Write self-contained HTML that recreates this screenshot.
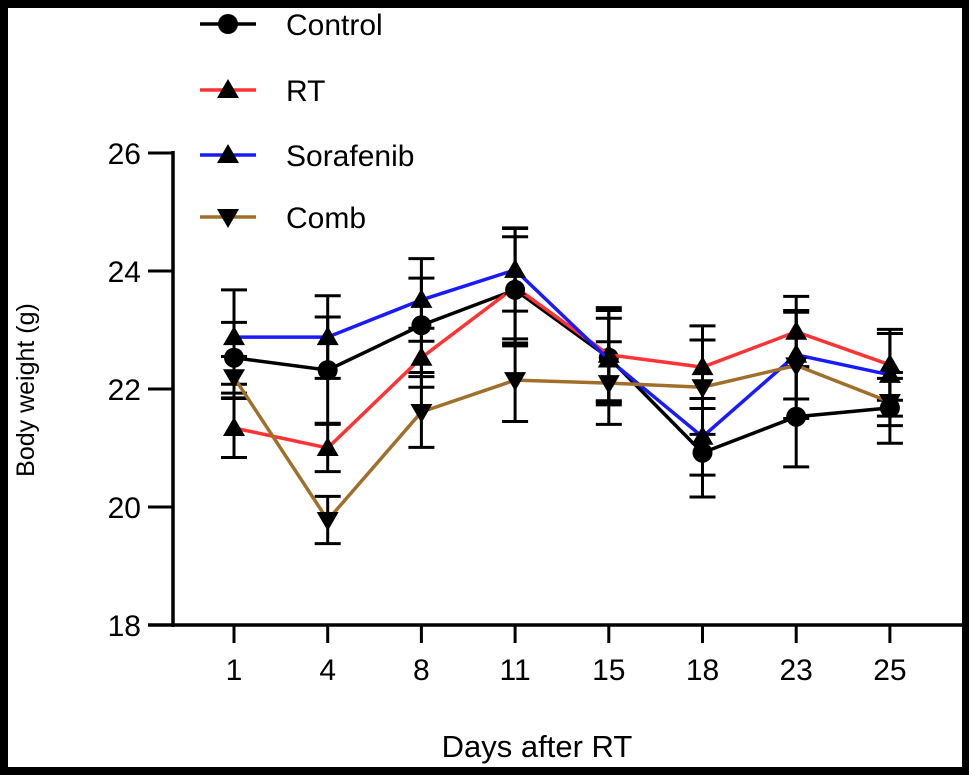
<!DOCTYPE html>
<html><head><meta charset="utf-8"><style>
html,body{margin:0;padding:0;background:#000;}
svg{display:block;font-family:"Liberation Sans",sans-serif;}
</style></head><body>
<svg width="969" height="775" viewBox="0 0 969 775">
<rect x="0" y="0" width="969" height="775" fill="#000"/>
<rect x="8" y="8" width="954" height="759" fill="#fff"/>
<g id="axes"></g>
<g id="series"></g>
<g id="legend"></g>
<text x="537" y="757" font-size="31" text-anchor="middle">Days after RT</text>
<text transform="translate(34,390) rotate(-90)" font-size="25" text-anchor="middle">Body weight (g)</text>
</svg>
<script>
const days = ["1","4","8","11","15","18","23","25"];
const yTicks = [18,20,22,24,26];
const seriesNames = ["Control","RT","Sorafenib","Comb"];
const controlVals = [22.53,22.32,23.08,23.68,22.53,20.92,21.53,21.68];
const rtVals = [21.34,21.0,22.53,23.73,22.58,22.37,22.97,22.41];
const sorafenibVals = [22.88,22.88,23.51,24.02,22.5,21.19,22.58,22.24];
const combVals = [22.2,19.78,21.61,22.15,22.1,22.03,22.4,21.78];
const controlErr = [0.6,0.9,0.8,0.9,0.8,0.75,0.85,0.6];
const rtErr = [0.5,0.4,0.5,1.0,0.8,0.7,0.6,0.6];
const sorafenibErr = [0.8,0.7,0.7,0.7,0.7,0.65,0.75,0.7];
const combErr = [0.35,0.4,0.6,0.7,0.7,0.8,0.9,0.4];

const NS='http://www.w3.org/2000/svg';
function y(v){return 625-(v-18)*59;}
function x(i){return 234+i*93.7;}
function mk(tag,attrs,parent){const e=document.createElementNS(NS,tag);for(const k in attrs)e.setAttribute(k,attrs[k]);parent.appendChild(e);return e;}
const axes=document.getElementById('axes');
let e=mk('line',{x1:173,y1:151,x2:173,y2:627,stroke:'#000','stroke-width':3.5},axes);


e=mk('line',{x1:148,y1:625,x2:962,y2:625,stroke:'#000','stroke-width':3.5},axes);


yTicks.forEach(t=>{
  let l=mk('line',{x1:148,y1:y(t),x2:173,y2:y(t),stroke:'#000','stroke-width':3},axes);
  
  
  let tx=mk('text',{x:141,y:y(t)+11,'font-size':30,'text-anchor':'end'},axes);tx.textContent=t;
  
  
});
days.forEach((d,i)=>{
  let l=mk('line',{x1:x(i),y1:625,x2:x(i),y2:643,stroke:'#000','stroke-width':3},axes);
  
  
  let tx=mk('text',{x:x(i),y:680,'font-size':30,'text-anchor':'middle'},axes);tx.textContent=d;
  
  
});
const colors=['#000','#ff3333','#1a1aff','#a0702a'];
const markers=['circle','up','up','down'];
const vals=[controlVals,rtVals,sorafenibVals,combVals];
const errs=[controlErr,rtErr,sorafenibErr,combErr];
function marker(type,cx,cy,parent){
  if(type==='circle')return mk('circle',{cx:cx,cy:cy,r:10,fill:'#000'},parent);
  if(type==='up')return mk('polygon',{points:`${cx},${cy-11} ${cx-11},${cy+8} ${cx+11},${cy+8}`,fill:'#000'},parent);
  return mk('polygon',{points:`${cx},${cy+11} ${cx-11},${cy-8} ${cx+11},${cy-8}`,fill:'#000'},parent);
}
const sg=document.getElementById('series');
vals.forEach((vs,s)=>{
  const g=mk('g',{},sg);
  
  
  vs.forEach((v,i)=>{
    const t=y(v+errs[s][i]),b=y(v-errs[s][i]);
    const eb=mk('path',{d:`M${x(i)},${t}V${b}M${x(i)-13},${t}h26M${x(i)-13},${b}h26`,stroke:'#000','stroke-width':3,fill:'none'},g);
    
    
  });
  const pl=mk('polyline',{points:vs.map((v,i)=>x(i)+','+y(v)).join(' '),fill:'none',stroke:colors[s],'stroke-width':3.5},g);
  
  
  vs.forEach((v,i)=>{
    const m=marker(markers[s],x(i),y(v),g);
    
    
  });
});
const lg=document.getElementById('legend');
const ly=[24,90,155,217];
seriesNames.forEach((n,s)=>{
  const g=mk('g',{},lg);
  
  
  mk('line',{x1:200,y1:ly[s],x2:256,y2:ly[s],stroke:colors[s],'stroke-width':3.5},g);
  marker(markers[s],228,ly[s],g);
  const t=mk('text',{x:286,y:ly[s]+11,'font-size':30},g);t.textContent=n;
});
</script>
</body></html>
